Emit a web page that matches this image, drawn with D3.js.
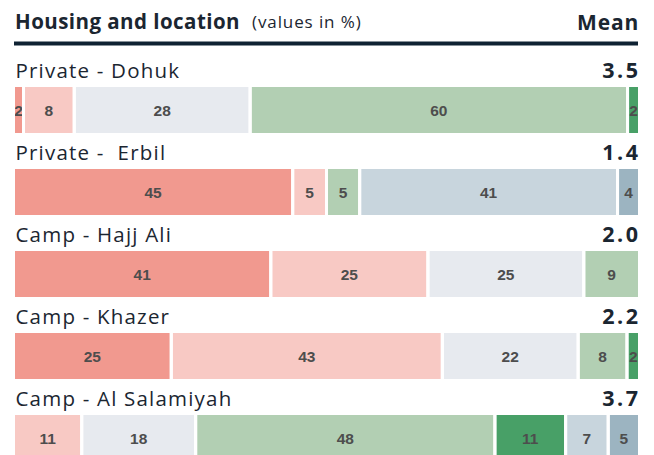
<!DOCTYPE html>
<html>
<head>
<meta charset="utf-8">
<script src="https://cdn.jsdelivr.net/npm/d3@7/dist/d3.min.js"></script>
<style>
  html, body { margin: 0; padding: 0; background: #fff; }
  svg { display: block; }
  text { white-space: pre; }
</style>
</head>
<body>
<svg id="chart" width="654" height="455"></svg>
<script>
// ---- data ----
const title = "Housing and location";
const subtitle = "(values in %)";
const meanHeader = "Mean";
const categories = ["Private - Dohuk", "Private -  Erbil", "Camp - Hajj Ali", "Camp - Khazer", "Camp - Al Salamiyah"];
const means = ["3.5", "1.4", "2.0", "2.2", "3.7"];
const responseKeys = ["veryNegative", "negative", "neutral", "positive", "veryPositive", "dontKnow", "noAnswer"];
const colors = ["#f1998f", "#f8c9c4", "#e7eaef", "#b2cfb3", "#48a067", "#c8d5dd", "#9cb4c1"];
// values per category, in responseKeys order (%)
const veryNegative = [1.6, 44.6, 41.1, 25.2, 0];
const negative     = [8.1, 5.4, 25.1, 43.3, 10.9];
const neutral      = [28.1, 0, 24.9, 21.7, 18.2];
const positive     = [60.3, 5.3, 8.9, 7.8, 47.8];
const veryPositive = [1.9, 0, 0, 2.0, 11.3];
const dontKnow     = [0, 41.2, 0, 0, 6.8];
const noAnswer     = [0, 3.5, 0, 0, 5.0];

const series = [veryNegative, negative, neutral, positive, veryPositive, dontKnow, noAnswer];

// ---- layout ----
const svg = d3.select("#chart");
const left = 15, right = 641;
const gap = 3;
const x = d3.scaleLinear().domain([0, 100]).range([left, right]);
const y = d3.scaleBand().domain(categories).range([87, 87 + 82 * 5]).paddingInner(0).paddingOuter(0);
const barH = 46;
const textColor = "#1b2631";
const labelFont = "'Open Sans', Lato, sans-serif";

// header
svg.append("text").attr("x", 15).attr("y", 29)
  .attr("font-family", labelFont).attr("font-weight", 700).attr("font-size", 20.5)
  .attr("fill", textColor).attr("letter-spacing", 0.45).text(title);
svg.append("text").attr("x", 252).attr("y", 28)
  .attr("font-family", labelFont).attr("font-size", 17)
  .attr("fill", textColor).attr("letter-spacing", 0.9).text(subtitle);
svg.append("text").attr("x", 639).attr("y", 30).attr("text-anchor", "end")
  .attr("font-family", labelFont).attr("font-weight", 700).attr("font-size", 21)
  .attr("fill", textColor).attr("letter-spacing", 0.8).text(meanHeader);
svg.append("rect").attr("x", 14).attr("y", 41.5).attr("width", 624).attr("height", 4)
  .attr("fill", "#0f2233");

// stacked data
const table = categories.map((c, i) => {
  const row = { category: c };
  responseKeys.forEach((k, j) => row[k] = series[j][i]);
  return row;
});
const stacked = d3.stack().keys(responseKeys)(table);

const defs = svg.append("defs");
const rows = svg.append("g");

// category labels and means
categories.forEach((c, i) => {
  const top = y(c);
  rows.append("text").attr("x", 15.5).attr("y", top - 9)
    .attr("font-family", labelFont).attr("font-size", 20.5)
    .attr("letter-spacing", 1.2)
    .attr("fill", textColor).text(c);
  rows.append("text").attr("x", 640.5).attr("y", top - 9).attr("text-anchor", "end")
    .attr("font-family", labelFont).attr("font-weight", 700).attr("font-size", 21.5)
    .attr("letter-spacing", 2.5)
    .attr("fill", textColor).text(means[i]);
});

// segments
stacked.forEach((layer, j) => {
  layer.forEach((d, i) => {
    const v = d[1] - d[0];
    if (v <= 0) return;
    const cat = categories[i];
    const x0 = x(d[0]);
    const w = Math.max(0, x(d[1]) - x(d[0]) - gap);
    const top = y(cat);
    const id = `clip-${j}-${i}`;
    defs.append("clipPath").attr("id", id)
      .append("rect").attr("x", x0).attr("y", top).attr("width", w).attr("height", barH);
    const g = rows.append("g").attr("clip-path", `url(#${id})`);
    g.append("rect").attr("x", x0).attr("y", top).attr("width", w).attr("height", barH)
      .attr("fill", colors[j]);
    g.append("text").attr("x", x0 + w / 2).attr("y", top + barH / 2 + 5.5)
      .attr("text-anchor", "middle")
      .attr("font-family", "'Liberation Sans', Arial, sans-serif").attr("font-weight", 700)
      .attr("font-size", 15.5).attr("fill", "#4d4d4d")
      .text(Math.round(v));
  });
});
</script>
</body>
</html>
